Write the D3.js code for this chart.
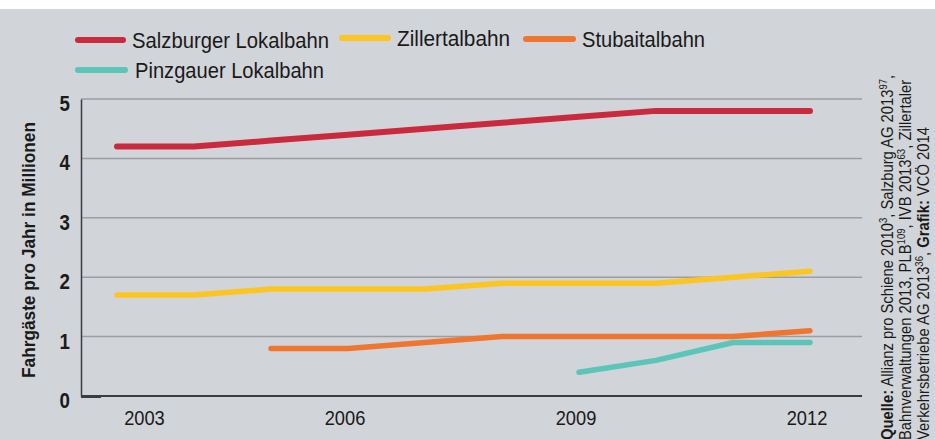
<!DOCTYPE html>
<head>
  <meta charset="utf-8">
  <script src="https://d3js.org/d3.v7.min.js"></script>
  <style>
    body { margin:0; background:#fff; }
    text { font-family: "Liberation Sans", Arial, sans-serif; fill:#1a1a1a; }
  </style>
</head>

<body>
  <script>
    var width = 935;
    var height = 439;

    // data
    var years = [2003, 2004, 2005, 2006, 2007, 2008, 2009, 2010, 2011, 2012];
    var salzburger = [4.2, 4.2, 4.3, 4.4, 4.5, 4.6, 4.7, 4.8, 4.8, 4.8];
    var zillertal = [1.7, 1.7, 1.8, 1.8, 1.8, 1.9, 1.9, 1.9, 2.0, 2.1];
    var stubaital = [null, null, 0.8, 0.8, 0.9, 1.0, 1.0, 1.0, 1.0, 1.1];
    var pinzgauer = [null, null, null, null, null, null, 0.4, 0.6, 0.9, 0.9];
    var seriesNames = ["Salzburger Lokalbahn", "Zillertalbahn", "Stubaitalbahn", "Pinzgauer Lokalbahn"];
    var seriesColors = ["#c92a3e", "#fcc520", "#ee7631", "#5cc5b9"];
    var yTicks = [0, 1, 2, 3, 4, 5];
    var xTicks = [2003, 2006, 2009, 2012];
    var yTitle = "Fahrgäste pro Jahr in Millionen";
    // [text, kind]  kind: b = bold, n = normal, s = superscript
    var sourceLines = [
      [["Quelle:", "b"], [" Allianz pro Schiene 2010", "n"], ["3", "s"], [", Salzburg AG 2013", "n"], ["97", "s"], [", ", "n"]],
      [["Bahnverwaltungen 2013, PLB", "n"], ["109", "s"], [", IVB 2013", "n"], ["63", "s"], [", Zillertaler", "n"]],
      [["Verkehrsbetriebe AG 2013", "n"], ["36", "s"], [", ", "n"], ["Grafik:", "b"], [" VCÖ 2014", "n"]]
    ];

    var allSeries = [salzburger, zillertal, stubaital, pinzgauer];

    var svg = d3.select("body")
      .append("svg")
      .attr("width", width)
      .attr("height", height);

    svg.append("rect")
      .attr("x", 0).attr("y", 9)
      .attr("width", width).attr("height", height - 9)
      .attr("fill", "#d1d4d8");

    var x = d3.scaleLinear().domain([2003, 2012]).range([117, 810]);
    var y = d3.scaleLinear().domain([0, 5]).range([396, 99]);

    // grid lines
    svg.append("g")
      .selectAll("line")
      .data(yTicks.slice(1))
      .enter().append("line")
      .attr("x1", 81).attr("x2", 862)
      .attr("y1", function(d) { return y(d); })
      .attr("y2", function(d) { return y(d); })
      .attr("stroke", "#9c9ea2")
      .attr("stroke-width", 1.5);

    // axes
    var yAxis = svg.append("g")
      .attr("transform", "translate(81,0)")
      .call(d3.axisLeft(y).tickValues(yTicks).tickFormat(d3.format("d")).tickSize(0).tickPadding(13));
    yAxis.select(".domain").attr("stroke", "#3c3c3c").attr("stroke-width", 1.5);
    yAxis.selectAll("text")
      .attr("dy", "0.52em")
      .attr("transform", "scale(0.85,1)")
      .style("font-size", "22px")
      .style("font-weight", "bold");

    svg.append("line")
      .attr("x1", 81).attr("x2", 862)
      .attr("y1", y(0)).attr("y2", y(0))
      .attr("stroke", "#3c3c3c").attr("stroke-width", 2);
    svg.append("line")
      .attr("x1", 81).attr("x2", 101)
      .attr("y1", y(0) + 1).attr("y2", y(0) + 1)
      .attr("stroke", "#3c3c3c").attr("stroke-width", 2);

    var xAxis = svg.append("g")
      .attr("transform", "translate(0," + y(0) + ")")
      .call(d3.axisBottom(x).tickValues(xTicks).tickFormat(d3.format("d")).tickSize(0).tickPadding(14));
    xAxis.select(".domain").remove();
    xAxis.selectAll("text")
      .attr("dx", function(d) { return d === 2003 ? 31 : -4; })
      .attr("transform", "scale(0.87,1)")
      .style("font-size", "21px");

    svg.append("text")
      .attr("transform", "translate(35,250) rotate(-90)")
      .attr("text-anchor", "middle")
      .attr("textLength", 256)
      .attr("lengthAdjust", "spacingAndGlyphs")
      .style("font-size", "18px")
      .style("font-weight", "bold")
      .text(yTitle);

    // lines
    var line = d3.line()
      .defined(function(d) { return d != null; })
      .x(function(d, i) { return x(years[i]); })
      .y(function(d) { return y(d); });

    svg.append("g")
      .selectAll("path")
      .data(allSeries)
      .enter().append("path")
      .attr("d", line)
      .attr("fill", "none")
      .attr("stroke", function(d, i) { return seriesColors[i]; })
      .attr("stroke-width", function(d, i) { return i === 0 ? 6 : 5.5; })
      .attr("stroke-linejoin", "round")
      .attr("stroke-linecap", "round");

    // legend: swatch start, swatch end, text start, text end, y
    var legendPos = [[78, 123, 132, 329, 40], [342, 388, 397, 510, 38], [526, 573, 582, 705, 39], [78, 125, 135, 324, 70]];
    var legend = svg.append("g")
      .selectAll("g")
      .data(seriesNames)
      .enter().append("g")
      .attr("transform", function(d, i) { return "translate(0," + legendPos[i][4] + ")"; });
    legend.append("line")
      .attr("x1", function(d, i) { return legendPos[i][0]; })
      .attr("x2", function(d, i) { return legendPos[i][1]; })
      .attr("stroke", function(d, i) { return seriesColors[i]; })
      .attr("stroke-width", 6)
      .attr("stroke-linecap", "round");
    legend.append("text")
      .attr("x", function(d, i) { return legendPos[i][2]; })
      .attr("y", 8)
      .attr("textLength", function(d, i) { return legendPos[i][3] - legendPos[i][2]; })
      .attr("lengthAdjust", "spacingAndGlyphs")
      .style("font-size", "22px")
      .text(function(d) { return d; });

    // source text
    sourceLines.forEach(function(parts, li) {
      var t = svg.append("text")
        .attr("transform", "translate(" + (893 + li * 18) + ",440) rotate(-90) scale(0.87,1)")
        .style("font-size", "17px");
      var raised = false;
      parts.forEach(function(p) {
        var ts = t.append("tspan").text(p[0]);
        if (p[1] === "s") {
          ts.attr("dy", -6).style("font-size", "11px");
          raised = true;
        } else if (raised) {
          ts.attr("dy", 6);
          raised = false;
        }
        if (p[1] === "b") ts.style("font-weight", "bold");
      });
    });
  </script>
</body>
